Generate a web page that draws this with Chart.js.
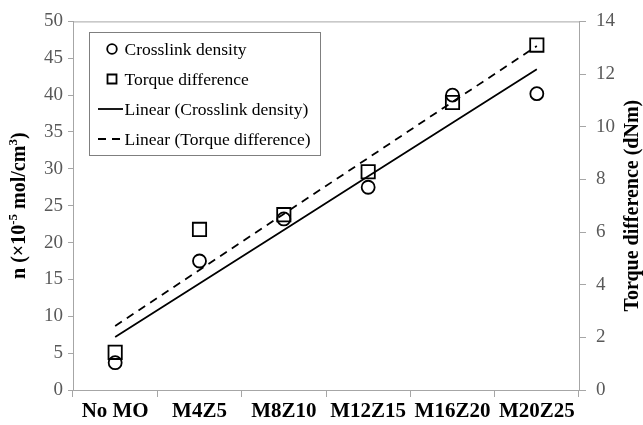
<!DOCTYPE html>
<html>
<head>
<meta charset="utf-8">
<script src="https://cdn.jsdelivr.net/npm/chart.js@4.4.0/dist/chart.umd.min.js"></script>
<style>
  html, body { margin: 0; padding: 0; background: #ffffff; }
  canvas { display: block; }
</style>
</head>
<body>
<canvas id="chart" width="643" height="425"></canvas>
<script>
// Formulations along the x axis
const categories = ['No MO', 'M4Z5', 'M8Z10', 'M12Z15', 'M16Z20', 'M20Z25'];
// Crosslink density, n (×10⁻⁵ mol/cm³) — left axis
const crosslinkDensity = [3.7, 17.5, 23.2, 27.5, 40.0, 40.2];
// Torque difference (dNm) — right axis
const torqueDifference = [1.43, 6.10, 6.66, 8.29, 10.92, 13.10];
// Axis tick values
const leftTicks = [0, 5, 10, 15, 20, 25, 30, 35, 40, 45, 50];
const rightTicks = [0, 2, 4, 6, 8, 10, 12, 14];

const SERIF = '"Liberation Serif", "Times New Roman", Times, serif';
const AXIS_GREY = '#a6a6a6';
const TICK_TEXT = '#595959';

// Least-squares linear trendline over category positions 1..n
function linearTrend(values) {
  const n = values.length;
  let sx = 0, sy = 0, sxx = 0, sxy = 0;
  values.forEach((v, i) => { const x = i + 1; sx += x; sy += v; sxx += x * x; sxy += x * v; });
  const slope = (n * sxy - sx * sy) / (n * sxx - sx * sx);
  const intercept = (sy - slope * sx) / n;
  return values.map((_, i) => intercept + slope * (i + 1));
}

// Axis titles, plot-area top border and the boxed legend
const decorations = {
  id: 'decorations',
  afterDraw(chart) {
    const ctx = chart.ctx;
    const area = chart.chartArea;
    ctx.save();

    // top border of the plot area
    ctx.strokeStyle = AXIS_GREY;
    ctx.lineWidth = 1;
    ctx.beginPath();
    ctx.moveTo(area.left, area.top + 0.5);
    ctx.lineTo(area.right, area.top + 0.5);
    ctx.stroke();

    // left axis title with superscripts
    const midY = (area.top + area.bottom) / 2;
    ctx.save();
    ctx.translate(20, midY);
    ctx.rotate(-Math.PI / 2);
    ctx.fillStyle = '#000';
    ctx.textBaseline = 'middle';
    const parts = [
      { t: 'n (×10', sup: false },
      { t: '-5', sup: true },
      { t: ' mol/cm', sup: false },
      { t: '3', sup: true },
      { t: ')', sup: false }
    ];
    const normal = 'bold 20px ' + SERIF;
    const small = 'bold 13px ' + SERIF;
    let total = 0;
    parts.forEach(p => { ctx.font = p.sup ? small : normal; total += ctx.measureText(p.t).width; });
    let x = -total / 2;
    ctx.textAlign = 'left';
    parts.forEach(p => {
      ctx.font = p.sup ? small : normal;
      ctx.fillText(p.t, x, p.sup ? -6 : 0);
      x += ctx.measureText(p.t).width;
    });
    ctx.restore();

    // right axis title
    ctx.save();
    ctx.translate(633, midY);
    ctx.rotate(-Math.PI / 2);
    ctx.fillStyle = '#000';
    ctx.font = 'bold 20px ' + SERIF;
    ctx.textAlign = 'center';
    ctx.textBaseline = 'middle';
    ctx.fillText('Torque difference (dNm)', 0, 0);
    ctx.restore();

    // legend box
    const lx = 89.5, ly = 32.5, lw = 231, lh = 123;
    ctx.fillStyle = '#ffffff';
    ctx.fillRect(lx, ly, lw, lh);
    ctx.strokeStyle = '#7f7f7f';
    ctx.lineWidth = 1;
    ctx.strokeRect(lx, ly, lw, lh);

    const rows = [
      { label: 'Crosslink density', kind: 'circle' },
      { label: 'Torque difference', kind: 'square' },
      { label: 'Linear (Crosslink density)', kind: 'solid' },
      { label: 'Linear (Torque difference)', kind: 'dashed' }
    ];
    ctx.strokeStyle = '#000';
    ctx.fillStyle = '#000';
    rows.forEach((r, i) => {
      const cy = 49 + i * 30;
      ctx.lineWidth = 1.8;
      ctx.setLineDash([]);
      ctx.beginPath();
      if (r.kind === 'circle') {
        ctx.arc(112, cy, 4.8, 0, Math.PI * 2);
        ctx.stroke();
      } else if (r.kind === 'square') {
        ctx.rect(107.5, cy - 4.5, 9, 9);
        ctx.stroke();
      } else if (r.kind === 'solid') {
        ctx.moveTo(98, cy);
        ctx.lineTo(123, cy);
        ctx.stroke();
      } else {
        ctx.setLineDash([8, 6]);
        ctx.moveTo(98, cy);
        ctx.lineTo(121, cy);
        ctx.stroke();
        ctx.setLineDash([]);
      }
      ctx.font = '17.5px ' + SERIF;
      ctx.textAlign = 'left';
      ctx.textBaseline = 'alphabetic';
      ctx.fillText(r.label, 124.5, cy + 6);
    });

    ctx.restore();
  }
};

const tickFont = { family: SERIF, size: 19 };

new Chart(document.getElementById('chart'), {
  type: 'line',
  data: {
    labels: categories,
    datasets: [
      {
        label: 'Crosslink density',
        data: crosslinkDensity,
        yAxisID: 'y',
        showLine: false,
        pointStyle: 'circle',
        pointRadius: 6.5,
        pointBorderWidth: 1.8,
        pointBorderColor: '#000',
        pointBackgroundColor: 'rgba(0,0,0,0)'
      },
      {
        label: 'Torque difference',
        data: torqueDifference,
        yAxisID: 'y1',
        showLine: false,
        pointStyle: 'rect',
        pointRadius: 9.4,
        pointBorderWidth: 1.8,
        pointBorderColor: '#000',
        pointBackgroundColor: 'rgba(0,0,0,0)'
      },
      {
        label: 'Linear (Crosslink density)',
        data: linearTrend(crosslinkDensity),
        yAxisID: 'y',
        borderColor: '#000',
        borderWidth: 1.8,
        pointRadius: 0,
        tension: 0
      },
      {
        label: 'Linear (Torque difference)',
        data: linearTrend(torqueDifference),
        yAxisID: 'y1',
        borderColor: '#000',
        borderWidth: 1.8,
        borderDash: [8, 6],
        pointRadius: 0,
        tension: 0
      }
    ]
  },
  options: {
    responsive: false,
    devicePixelRatio: 1,
    animation: false,
    layout: { padding: { top: 21, left: 0, right: 0, bottom: 0 } },
    plugins: {
      legend: { display: false },
      tooltip: { enabled: false }
    },
    scales: {
      x: {
        type: 'category',
        offset: true,
        grid: { offset: true, drawOnChartArea: false, drawTicks: true, tickLength: 7, color: AXIS_GREY },
        border: { display: true, color: AXIS_GREY },
        ticks: {
          font: { family: SERIF, size: 21, weight: 'bold' },
          color: '#000',
          padding: 2,
          maxRotation: 0,
          autoSkip: false
        },
        afterFit(scale) { scale.height = 35; }
      },
      y: {
        position: 'left',
        min: 0,
        max: 50,
        afterBuildTicks(scale) { scale.ticks = leftTicks.map(v => ({ value: v })); },
        grid: { drawOnChartArea: false, drawTicks: true, tickLength: 5, color: AXIS_GREY },
        border: { display: true, color: AXIS_GREY },
        ticks: { font: tickFont, color: TICK_TEXT, padding: 5 },
        afterFit(scale) { scale.width = 73; }
      },
      y1: {
        position: 'right',
        min: 0,
        max: 14,
        afterBuildTicks(scale) { scale.ticks = rightTicks.map(v => ({ value: v })); },
        grid: { drawOnChartArea: false, drawTicks: true, tickLength: 7, color: AXIS_GREY },
        border: { display: true, color: AXIS_GREY },
        ticks: { font: tickFont, color: TICK_TEXT, padding: 10 },
        afterFit(scale) { scale.width = 64; }
      }
    }
  },
  plugins: [decorations]
});
</script>
</body>
</html>
